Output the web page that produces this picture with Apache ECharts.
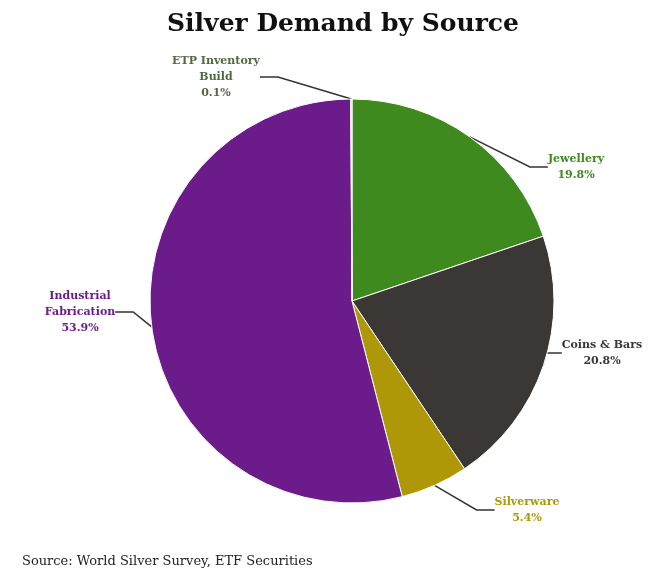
<!DOCTYPE html>
<html>
<head>
<meta charset="utf-8">
<script src="https://cdn.jsdelivr.net/npm/echarts@6/dist/echarts.min.js"></script>
<style>
html,body{margin:0;padding:0;background:#fff;}
#chart{width:654px;height:576px;}
</style>
</head>
<body>
<div id="chart"></div>
<script>
const categories = ["Jewellery", "Coins & Bars", "Silverware", "Industrial\nFabrication", "ETP Inventory\nBuild"];
const values = [19.8, 20.8, 5.4, 53.9, 0.1];
const sliceColors = ["#3f8a1f", "#3b3735", "#ae9808", "#6b1c8a", "#c9d2e2"];
const labelColors = ["#3f8a1f", "#3b3735", "#ae9808", "#6b1c8a", "#4f6a3e"];
// label block centres (layout only)
const labelSpots = [[576, 167], [602, 353], [527, 510], [80, 312], [216, 77]];

const chart = echarts.init(document.getElementById('chart'));
const data = categories.map((c, i) => ({
  name: c,
  value: values[i],
  itemStyle: { color: sliceColors[i] },
  label: { color: labelColors[i] }
}));
chart.setOption({
  backgroundColor: '#fff',
  animation: false,
  title: {
    text: 'Silver Demand by Source',
    left: 338,
    textAlign: 'center',
    top: 7,
    textStyle: { fontFamily: 'DejaVu Serif', fontSize: 25, fontWeight: 'bold', color: '#111' }
  },
  graphic: [{
    type: 'text', left: 22, top: 555,
    style: { text: 'Source: World Silver Survey, ETF Securities', font: '13px "DejaVu Serif"', fill: '#222' }
  }],
  series: [{
    type: 'pie',
    center: [352, 301],
    radius: 202,
    startAngle: 90,
    clockwise: true,
    data: data,
    itemStyle: { borderColor: '#fff', borderWidth: 1 },
    label: {
      show: true,
      fontFamily: 'DejaVu Serif',
      fontSize: 11,
      fontWeight: 'bold',
      lineHeight: 16,
      overflow: 'none',
      formatter: p => p.name.split('\n').map(s => '{t|' + s + '}').join('\n') + '\n{t|' + p.value.toFixed(1) + '%}',
      rich: { t: { align: 'center', fontFamily: 'DejaVu Serif', fontSize: 11, fontWeight: 'bold', lineHeight: 16 } }
    },
    labelLine: { show: true, length: 18, length2: 18, lineStyle: { width: 1.5, color: '#333' } },
    labelLayout: p => ({
      x: labelSpots[p.dataIndex][0],
      y: labelSpots[p.dataIndex][1],
      align: 'center',
      verticalAlign: 'middle'
    })
  }]
});
</script>
</body>
</html>
